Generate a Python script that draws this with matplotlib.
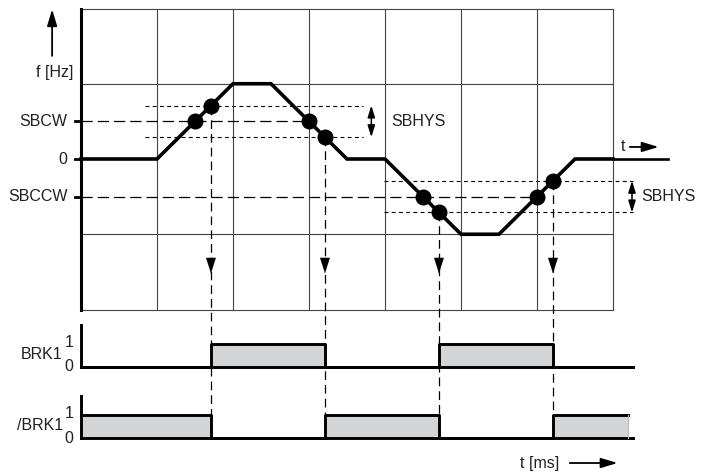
import numpy as np
import matplotlib
matplotlib.use("Agg")
import matplotlib.pyplot as plt

plt.rcParams['font.family'] = ['Liberation Sans', 'DejaVu Sans']

# frequency profile (grid units)
t_f = [0, 1, 2, 2.5, 3.5, 4, 5, 5.5, 6.5, 7]
f = [0, 0, 1, 1, 0, 0, -1, -1, 0, 0]
sbcw = 0.5
sbccw = -0.5
sbhys = 0.21
# threshold crossing points
dot_t = [1.5, 1.71, 3.0, 3.21, 4.5, 4.71, 6.0, 6.21]
dot_f = [0.5, 0.71, 0.5, 0.29, -0.5, -0.71, -0.5, -0.29]
switch_t = [1.71, 3.21, 4.71, 6.21]
switch_f = [0.71, 0.29, -0.71, -0.29]
# brake outputs
brk1_t = [0, 1.71, 3.21, 4.71, 6.21, 7.26]
brk1_v = [0, 1, 0, 1, 0, 0]
nbrk1_t = [0, 1.71, 3.21, 4.71, 6.21, 7.2]
nbrk1_v = [1, 0, 1, 0, 1, 1]

txt = '#231f20'
fs = 11.5
fig = plt.figure(figsize=(7.03, 4.72), dpi=100)
ax = fig.add_axes([0, 0, 1, 1])
px, py = 76.0, 75.25
ax.set_xlim(-81 / px, (703 - 81) / px)
ax.set_ylim(-(472 - 159) / py, 159 / py)
ax.axis('off')

# grid
for xi in range(1, 8):
    ax.plot([xi, xi], [-2, 2], color='#444444', lw=0.8, zorder=1)
for yi in [2, 1, -1, -2]:
    ax.plot([0, 7], [yi, yi], color='#444444', lw=0.8, zorder=1)
ax.plot([0, 0], [-2, 2], color='black', lw=2.2, zorder=3)
ax.plot([7, 7.73], [0, 0], color='black', lw=1.9, zorder=3)

arr = dict(arrowstyle='-|>,head_length=1.0,head_width=0.3',
           color='black', lw=1.3, shrinkA=0, shrinkB=0)

# y axis arrow and labels
ax.annotate('', xy=(-0.38, 1.99), xytext=(-0.38, 1.37), arrowprops=arr)
ax.text(-0.34, 1.15, 'f [Hz]', ha='center', va='center', fontsize=fs, color=txt)
for lab, yv in [('SBCW', sbcw), ('0', 0), ('SBCCW', sbccw)]:
    ax.text(-0.18, yv, lab, ha='right', va='center', fontsize=fs, color=txt)
    ax.plot([-0.08, 0], [yv, yv], color='black', lw=2)

# thresholds
ax.plot([0, dot_t[2]], [sbcw, sbcw], color='black', lw=0.9, ls=(0, (9, 4)), zorder=2)
ax.plot([0, dot_t[6]], [sbccw, sbccw], color='black', lw=0.9, ls=(0, (9, 4)), zorder=2)
for yv in [sbcw + sbhys, sbcw - sbhys]:
    ax.plot([0.84, 3.71], [yv, yv], color='black', lw=0.8, ls=(0, (3.5, 3)), zorder=2)
for yv in [sbccw + sbhys, sbccw - sbhys]:
    ax.plot([3.99, 7.26], [yv, yv], color='black', lw=0.8, ls=(0, (3.5, 3)), zorder=2)
for xa, yc, xt in [(3.82, sbcw, 4.08), (7.25, sbccw, 7.37)]:
    ax.annotate('', xy=(xa, yc + sbhys), xytext=(xa, yc - sbhys),
                arrowprops=dict(arrowstyle='<|-|>,head_length=0.7,head_width=0.22',
                                color='black', lw=1.1, shrinkA=0, shrinkB=0))
    ax.text(xt, yc, 'SBHYS', ha='left', va='center', fontsize=fs, color=txt)

# frequency curve
ax.plot(t_f, f, color='black', lw=2.6, zorder=4, solid_joinstyle='miter')
ax.plot(dot_t, dot_f, 'o', color='black', ms=10.5, zorder=5)

# t arrow
ax.text(7.13, 0.16, 't', ha='center', va='center', fontsize=fs, color=txt)
ax.annotate('', xy=(7.6, 0.16), xytext=(7.22, 0.16), arrowprops=arr)

# switch lines
for xs, ys in zip(switch_t, switch_f):
    ax.plot([xs, xs], [ys, -3.71], color='black', lw=0.9, ls=(0, (7, 4)), zorder=2)
    ax.annotate('', xy=(xs, -1.52), xytext=(xs, -1.3),
                arrowprops=dict(arrowstyle='-|>,head_length=1.1,head_width=0.35',
                                color='black', lw=0.1, shrinkA=0, shrinkB=0))

# brake panels
panels = [('BRK1', brk1_t, brk1_v, -2.764, -2.206),
          ('/BRK1', nbrk1_t, nbrk1_v, -3.708, -3.149)]
h = 0.30
for name, tt, vv, base, top in panels:
    lvl = base + h * np.array(vv)
    ax.fill_between(tt, base, lvl, step='post', color='#d3d4d6', lw=0, zorder=2)
    ax.step(tt, lvl, where='post', color='black', lw=2.1, zorder=3)
    ax.plot([0, 7.26], [base, base], color='black', lw=2.1, zorder=3)
    ax.plot([0, 0], [base, top], color='black', lw=2.1, zorder=3)
    ax.text(-0.24, base + 0.16, name, ha='right', va='center', fontsize=fs, color=txt)
    ax.text(-0.16, base + 0.32, '1', ha='center', va='center', fontsize=fs, color=txt)
    ax.text(-0.16, base, '0', ha='center', va='center', fontsize=fs, color=txt)
ax.plot([7.2, 7.2], [-3.708, -3.408], color='#bbbbbb', lw=0.8, zorder=3)

# time label
ax.text(6.04, -4.04, 't [ms]', ha='center', va='center', fontsize=fs, color=txt)
ax.annotate('', xy=(7.06, -4.04), xytext=(6.43, -4.04), arrowprops=arr)

fig.savefig('out.png', dpi=100)
